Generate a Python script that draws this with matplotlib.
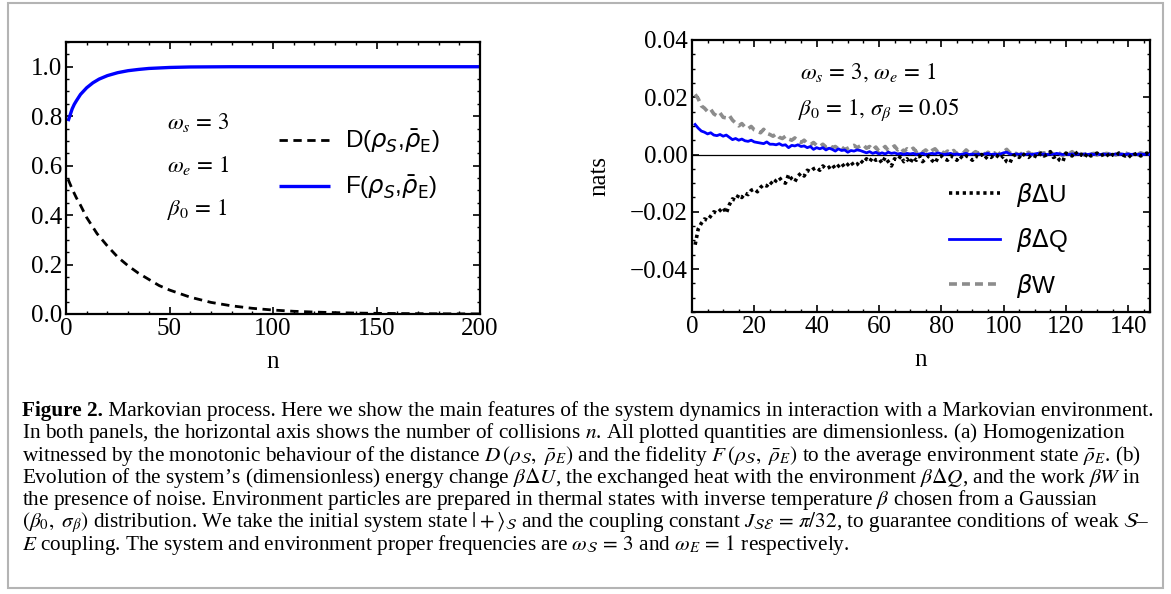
import matplotlib
matplotlib.use("Agg")
import matplotlib.pyplot as plt
from matplotlib.font_manager import FontProperties
from matplotlib.patches import Rectangle
from matplotlib.ticker import MultipleLocator
import numpy as np

plt.rcParams["font.family"] = ["Liberation Serif", "DejaVu Serif"]
plt.rcParams["mathtext.fontset"] = "stix"

# ---- panel (a): distance and fidelity vs collisions ----
N_D = [1, 2, 3, 5, 7, 10, 15, 20, 25, 30, 35, 40, 45, 50, 60, 70, 80, 90, 100,
       110, 120, 130, 140, 150, 160, 170, 180, 190, 200]
D_VALS = [0.545, 0.525, 0.505, 0.47, 0.44, 0.39, 0.325, 0.275, 0.23, 0.195,
          0.165, 0.14, 0.115, 0.097, 0.068, 0.047, 0.033, 0.023, 0.016, 0.011,
          0.0078, 0.0055, 0.0038, 0.0027, 0.0019, 0.0013, 0.0009, 0.0006, 0.0004]
N_F = [1, 2, 3, 4, 5, 7, 10, 13, 16, 20, 25, 30, 35, 40, 50, 60, 70, 80, 100,
       150, 200]
F_VALS = [0.78, 0.805, 0.83, 0.848, 0.862, 0.888, 0.915, 0.935, 0.95, 0.964,
          0.976, 0.984, 0.989, 0.993, 0.997, 0.999, 0.9995, 1.0, 1.0, 1.0, 1.0]
A_YTICKS = [0.0, 0.2, 0.4, 0.6, 0.8, 1.0]
A_YLABELS = ["0.0", "0.2", "0.4", "0.6", "0.8", "1.0"]
A_XTICKS = [0, 50, 100, 150, 200]

# ---- panel (b): energetics, values in units of 1e-3 nats, n = 1..147 ----
N_B = list(range(1, 148))
W_VALS = [
    21.0, 19.5, 17.0, 16.2, 15.0, 15.8, 14.2, 13.5, 14.5, 13.0,
    12.8, 13.6, 12.0, 11.0, 10.0, 10.8, 9.6, 9.0, 9.8, 8.6,
    8.2, 7.6, 8.8, 7.4, 7.0, 6.4, 7.2, 6.0, 5.6, 6.4,
    5.4, 5.0, 5.8, 4.6, 4.2, 5.0, 3.8, 3.4, 4.2, 3.2,
    2.8, 3.6, 2.6, 3.4, 2.4, 2.8, 2.0, 2.6, 1.8, 2.2,
    2.8, 3.2, 2.4, 3.0, 3.4, 2.2, 2.8, 1.6, 2.6, 1.2,
    1.8, 2.8, 1.4, 2.2, 3.0, 1.6, 2.4, 1.0, 2.0, 1.4,
    2.2, 1.0, 1.8, 0.8, 1.6, 0.6, 1.4, 2.0, 0.8, 1.2,
    0.4, 1.2, 0.6, 1.4, 0.2, 1.0, 0.4, 1.6, 0.6, 0.2,
    1.0, 0.4, 1.2, 0.0, 0.8, 0.2, 0.6, -0.2, 0.6, 1.0,
    1.8, 0.6, 0.0, 0.4, -0.2, 0.6, 0.2, 0.8, 0.0, 0.4,
    1.0, 0.2, 0.6, -0.2, 0.8, 0.0, 1.2, 0.4, -0.4, 0.6,
    0.2, 1.0, 0.0, 0.6, 0.2, -0.2, 0.8, 0.2, 0.4, -0.2,
    0.6, 0.0, 0.4, 0.2, 0.8, -0.2, 0.4, 0.0, 0.6, 0.2,
    -0.2, 0.4, 0.0, 0.6, 0.2, 0.0, 0.4,
]
Q_VALS = [
    10.5, 9.2, 8.2, 7.8, 7.2, 7.6, 6.8, 6.6, 7.0, 6.4,
    6.8, 6.0, 5.2, 5.6, 5.0, 5.4, 4.8, 4.6, 5.0, 4.4,
    4.2, 4.0, 3.8, 4.4, 3.6, 3.6, 3.4, 3.8, 3.2, 3.4,
    2.4, 3.2, 3.0, 3.4, 2.8, 3.0, 2.4, 2.8, 1.8, 2.4,
    2.0, 2.4, 1.6, 2.2, 1.8, 1.2, 2.0, 1.4, 1.6, 0.8,
    1.4, 1.2, 1.6, 1.4, 1.0, 0.6, 1.0, 0.4, 0.8, 0.2,
    0.6, 0.2, 0.8, 0.4, 0.6, 0.2, 0.4, 0.0, 0.4, 0.2,
    0.4, 0.0, 0.2, 0.4, 0.0, 0.2, 0.4, 0.2, 0.6, 0.2,
    0.0, 0.2, 0.4, 0.0, 0.2, 0.0, 0.2, 0.4, 0.0, 0.2,
    0.0, 0.2, 0.0, 0.2, 0.4, 0.0, 0.2, 0.0, 0.2, 0.6,
    0.8, 0.2, 0.0, 0.2, 0.0, 0.2, 0.0, 0.2, 0.0, 0.2,
    0.4, 0.0, 0.2, 0.0, 0.2, 0.0, 0.4, 0.2, 0.0, 0.2,
    0.0, 0.2, 0.0, 0.2, 0.0, 0.2, 0.0, 0.2, 0.0, 0.2,
    0.0, 0.2, 0.0, 0.2, 0.0, 0.2, 0.0, 0.2, 0.0, 0.2,
    0.0, 0.2, 0.0, 0.2, 0.0, 0.2, 0.0,
]
U_VALS = [
    -31.5, -26.0, -24.0, -22.5, -23.0, -21.5, -20.0, -20.5, -19.5, -18.5,
    -20.5, -17.5, -15.5, -16.0, -14.0, -15.0, -13.5, -14.0, -12.5, -12.0,
    -13.0, -11.5, -10.5, -11.0, -9.5, -10.5, -9.0, -8.0, -9.5, -10.0,
    -7.0, -8.5, -9.5, -7.5, -6.5, -7.5, -5.5, -6.0, -5.0, -4.5,
    -5.5, -4.0, -5.0, -4.5, -3.5, -5.0, -4.0, -3.0, -4.5, -3.5,
    -2.5, -4.0, -3.5, -2.0, -3.0, -1.5, -2.5, -1.0, -2.0, -1.5,
    -3.0, -1.0, -2.5, -4.0, -1.5, -2.0, -0.5, -2.5, -1.5, -3.0,
    -1.0, -2.0, -0.5, -2.5, -1.5, -0.5, -2.0, -3.0, -1.0, -0.5,
    -1.5, -2.0, -0.5, -1.0, -2.0, -0.5, -1.5, -0.5, -1.0, -2.0,
    -0.5, -1.0, 0.0, -1.5, -0.5, -1.0, 0.0, -0.5, -1.5, -0.5,
    -2.5, -3.0, -0.5, 0.0, -1.0, 0.5, -0.5, -1.0, 0.0, -0.5,
    -1.0, 0.5, -0.5, 0.0, 1.0, -1.0, -0.5, -2.0, -2.5, 0.5,
    0.0, -0.5, 1.0, -0.5, 0.0, -1.0, 0.5, -0.5, 0.0, 0.5,
    -0.5, 0.0, 0.5, -1.0, 0.0, -0.5, 0.5, 0.0, -0.5, 0.0,
    -1.0, 0.0, 0.5, -0.5, 0.0, 0.5, -0.5,
]
B_YTICKS = [-0.04, -0.02, 0.0, 0.02, 0.04]
B_YLABELS = ["\u22120.04", "\u22120.02", "0.00", "0.02", "0.04"]
B_XTICKS = [0, 20, 40, 60, 80, 100, 120, 140]

CAPTION = [
    "Markovian process. Here we show the main features of the system dynamics in interaction with a Markovian environment.",
    "In both panels, the horizontal axis shows the number of collisions $n$. All plotted quantities are dimensionless. (a) Homogenization",
    r"witnessed by the monotonic behaviour of the distance $D\,(\rho_{\mathcal{S}},\ \bar{\rho}_E)$ and the fidelity $F\,(\rho_{\mathcal{S}},\ \bar{\rho}_E)$ to the average environment state $\bar{\rho}_E$. (b)",
    r"Evolution of the system’s (dimensionless) energy change $\beta\Delta U$, the exchanged heat with the environment $\beta\Delta Q$, and the work $\beta W$ in",
    r"the presence of noise. Environment particles are prepared in thermal states with inverse temperature $\beta$ chosen from a Gaussian",
    r"$(\beta_0,\ \sigma_\beta)$ distribution. We take the initial system state $|+\rangle_{\mathcal{S}}$ and the coupling constant $J_{\mathcal{SE}}\,=\,\pi/32$, to guarantee conditions of weak $\mathcal{S}$–",
    r"$E$ coupling. The system and environment proper frequencies are $\omega_{\mathcal{S}}\,=\,3$ and $\omega_E\,=\,1$ respectively.",
]

W, H = 1171, 594
fig = plt.figure(figsize=(W / 100, H / 100), dpi=100)
fig.patch.set_facecolor("white")


def px_axes(x0, y0, x1, y1):
    return fig.add_axes([x0 / W, 1 - y1 / H, (x1 - x0) / W, (y1 - y0) / H])


def frame_style(ax, xminor, yminor):
    for sp in ax.spines.values():
        sp.set_linewidth(1.6)
    ax.xaxis.set_minor_locator(MultipleLocator(xminor))
    ax.yaxis.set_minor_locator(MultipleLocator(yminor))
    ax.tick_params(which="both", direction="in", top=True, right=True,
                   labelsize=18, pad=3)
    ax.tick_params(which="major", length=5, width=1.2)
    ax.tick_params(which="minor", length=2.5, width=1.0)


leg_font = FontProperties(family="Liberation Sans", size=17.5, math_fontfamily="dejavusans")
ann_kw = dict(fontsize=16.5, math_fontfamily="stix")

# panel (a)
ax1 = px_axes(66, 42, 480, 314)
lf, = ax1.plot(N_F, F_VALS, color="#0000ff", lw=2.4, solid_capstyle="butt")
ld, = ax1.plot(N_D, D_VALS, color="black", lw=2.0, dashes=(3, 2))
ax1.set_xlim(0, 200)
ax1.set_ylim(0, 1.1)
ax1.set_xticks(A_XTICKS)
ax1.set_yticks(A_YTICKS, A_YLABELS)
frame_style(ax1, 10, 0.05)
ax1.set_xlabel("n", fontsize=18, labelpad=8)
ax1.legend([ld, lf], [r"D($\rho_S$,$\bar{\rho}_\mathrm{E}$)", r"F($\rho_S$,$\bar{\rho}_\mathrm{E}$)"],
           loc="upper left", bbox_to_anchor=(0.492, 0.722), frameon=False, prop=leg_font,
           handlelength=2.1, handletextpad=0.6, labelspacing=0.75, borderaxespad=0)
ax1.text(0.245, 0.705, r"$\omega_s\,=\,3$", transform=ax1.transAxes, va="center", **ann_kw)
ax1.text(0.245, 0.545, r"$\omega_e\,=\,1$", transform=ax1.transAxes, va="center", **ann_kw)
ax1.text(0.245, 0.385, r"$\beta_0\,=\,1$", transform=ax1.transAxes, va="center", **ann_kw)

# panel (b)
ax2 = px_axes(692, 40, 1150, 312)
ax2.axhline(0, color="black", lw=0.9, zorder=1)
lw_, = ax2.plot(N_B, np.array(W_VALS) * 1e-3, color="#8c8c8c", lw=2.6, dashes=(2.2, 1.4), zorder=2)
lq, = ax2.plot(N_B, np.array(Q_VALS) * 1e-3, color="#0000ff", lw=2.0, zorder=3)
lu, = ax2.plot(N_B, np.array(U_VALS) * 1e-3, color="black", lw=2.6, dashes=(0.9, 1.0), zorder=4)
ax2.set_xlim(0, 147)
ax2.set_ylim(-0.055, 0.04)
ax2.set_xticks(B_XTICKS)
ax2.set_yticks(B_YTICKS, B_YLABELS)
frame_style(ax2, 5, 0.005)
ax2.set_xlabel("n", fontsize=18, labelpad=8)
ax2.set_ylabel("nats", fontsize=18, labelpad=14)
ax2.legend([lu, lq, lw_], [r"$\beta\Delta$U", r"$\beta\Delta$Q", r"$\beta$W"],
           loc="upper left", bbox_to_anchor=(0.54, 0.518), frameon=False, prop=leg_font,
           handlelength=2.1, handletextpad=0.65, labelspacing=0.72, borderaxespad=0)
ax2.text(0.235, 0.88, r"$\omega_s\,=\,3,\,\omega_e\,=\,1$", transform=ax2.transAxes, va="center", **ann_kw)
ax2.text(0.232, 0.745, r"$\beta_0\,=\,1,\,\sigma_\beta\,=\,0.05$", transform=ax2.transAxes, va="center", **ann_kw)

# caption block
cap = fig.add_axes([0, 0, 1, 1], zorder=-1)
cap.set_axis_off()
cap.set_xlim(0, W)
cap.set_ylim(H, 0)
cap.add_patch(Rectangle((8, 3), 1155, 585, fill=False, edgecolor="#b4b4b4", lw=1.5))
cap_fs = 15.3
y0, dy = 411, 22.3
head = cap.text(22, y0, "Figure 2.", fontsize=cap_fs, fontweight="bold", va="center")
cap.annotate(" " + CAPTION[0], xy=(1, 0.5), xycoords=head, va="center", fontsize=cap_fs)
for i, line in enumerate(CAPTION[1:], start=1):
    cap.text(22, y0 + i * dy, line, fontsize=cap_fs, va="center")

fig.savefig("out.png", dpi=100)
